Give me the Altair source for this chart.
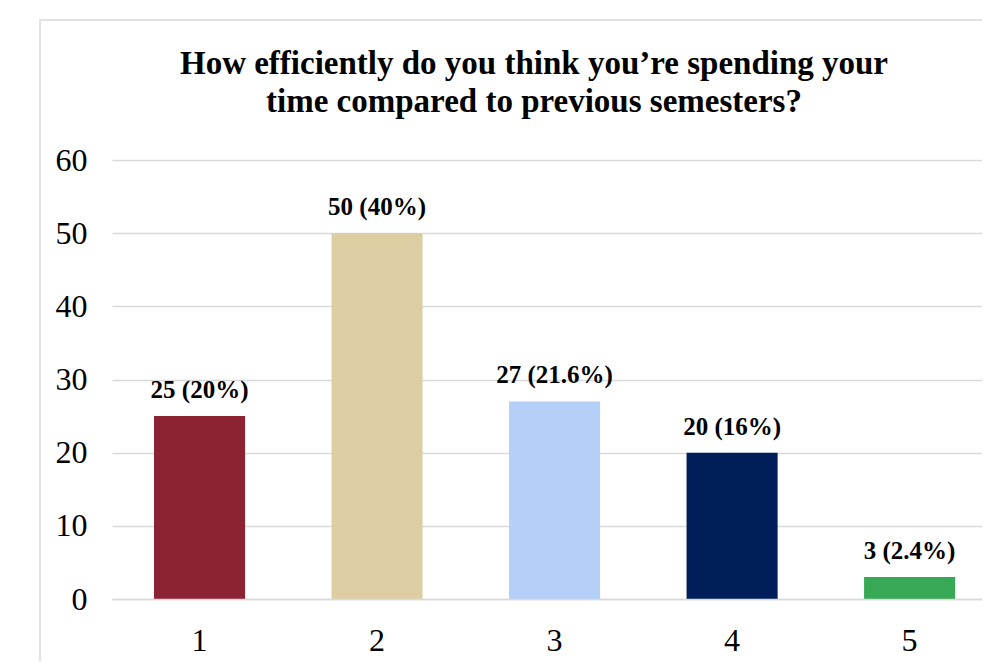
import altair as alt
import pandas as pd

categories = ["1", "2", "3", "4", "5"]
counts = [25, 50, 27, 20, 3]
labels = ["25 (20%)", "50 (40%)", "27 (21.6%)", "20 (16%)", "3 (2.4%)"]
colors = ["#8B2333", "#DDCDA2", "#B4D0F9", "#001E5A", "#37A856"]
y_ticks = [0, 10, 20, 30, 40, 50, 60]
title_lines = [
    "How efficiently do you think you\u2019re spending your",
    "time compared to previous semesters?",
]

FONT = "Liberation Serif"
GRID = "#d9d9d9"

df = pd.DataFrame({"category": categories, "count": counts, "label": labels})

x_enc = alt.X(
    "category:N",
    sort=categories,
    title=None,
    scale=alt.Scale(paddingInner=0.487, paddingOuter=0.194, align=0.61),
    axis=alt.Axis(
        labelAngle=0,
        labelFont=FONT,
        labelFontSize=32,
        labelColor="#000000",
        ticks=False,
        domain=True,
        domainColor=GRID,
        domainWidth=1.5,
        labelPadding=26,
        zindex=1,
    ),
)
y_enc = alt.Y(
    "count:Q",
    title=None,
    scale=alt.Scale(domain=[0, 60], nice=False),
    axis=alt.Axis(
        values=y_ticks,
        labelFont=FONT,
        labelFontSize=32,
        labelColor="#000000",
        ticks=False,
        domain=False,
        grid=True,
        gridColor=GRID,
        gridWidth=1.5,
        labelPadding=25,
    ),
)
color_enc = alt.Color(
    "category:N",
    scale=alt.Scale(domain=categories, range=colors),
    legend=None,
)

base = alt.Chart(df)
bars = base.mark_bar().encode(x=x_enc, y=y_enc, color=color_enc)
texts = base.mark_text(
    font=FONT, fontSize=25, fontWeight="bold", color="#000000",
    baseline="alphabetic", dy=-18,
).encode(x=x_enc, y=y_enc, text="label:N")

border = alt.Chart(pd.DataFrame({"a": [0]})).mark_rect(
    filled=False, stroke=GRID, strokeWidth=1.5
).encode(
    x=alt.value(-72), x2=alt.value(1000),
    y=alt.value(-140), y2=alt.value(700),
)

chart = alt.layer(border, bars, texts).properties(
    width=870,
    height=439,
    autosize=alt.AutoSizeParams(type="none"),
    padding={"left": 104, "top": 152, "right": 0, "bottom": 62},
    title=alt.Title(
        text=title_lines,
        font=FONT,
        fontSize=33,
        fontWeight="bold",
        color="#000000",
        anchor="middle",
        dx=-13,
        offset=0,
        dy=100,
        lineHeight=38,
    ),
).configure_view(stroke=None)

chart.save("out.html", embed_options={"renderer": "svg", "actions": False})
